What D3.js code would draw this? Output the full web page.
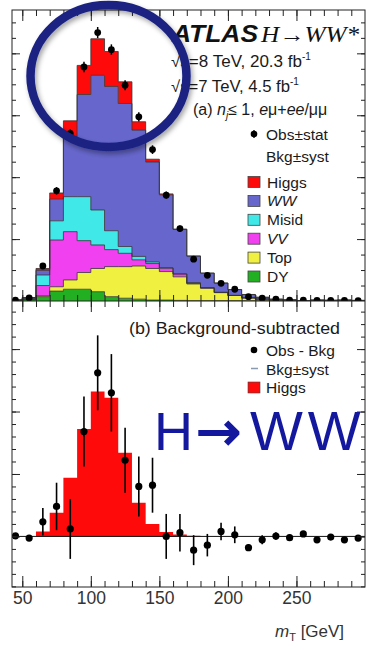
<!DOCTYPE html>
<html>
<head>
<meta charset="utf-8">
<script src="https://cdn.jsdelivr.net/npm/d3@7"></script>
<style>
  body { margin: 0; background: #fff; }
  svg { display: block; font-family: "Liberation Sans", Arial, sans-serif; }
</style>
</head>
<body>
<svg id="chart" width="376" height="650"></svg>
<script>
// bins of 10 GeV in mT, lower edges
const binLow   = [40,50,60,70,80,90,100,110,120,130,140,150,160,170,180,190,200,210,220,230,240,250,260,270,280,290];
const binWidth = 10;

// (a) stacked prediction, events / 10 GeV
const dyBkg    = [2,4,14,32,38,38,30,14,9,6,3,3,2,1,1,1,1,1,1,0,0,0,0,0,0,0];
const topBkg   = [0.5,1,3,14,30,54,75,97,102,107,102,92,76,54,40,26,17,9,5,3,2,0.5,1.5,1,1.5,1];
const vvBkg    = [0.5,3,33,151,156,103,76,55,43,20,16,11,9,3,2,1,0,0,0,0,0,0,0,0,0,0];
const misidBkg = [0,2,34,62,113,142,113,61,22,11,5,1,1,1,0,0,0,0,0,0,0,0,0,0,0,0];
const wwBkg    = [0,1,15,70,194,330,435,466,462,408,323,236,143,86,47,30,19,11,6,3,2,0.5,2,1.5,2,1];
const higgsSig = [0,0,6,20,51,94,118,113,70,27,9,3,1.5,0.5,0,0,0,0,0,0,0,0,0,0,0,0];
const obsCount = [3,10,113,356,541,756,867,812,697,595,489,342,234,135,83,57,38,14,9,6,3,3,2,2,2,1];
const obsStat  = [2,3,9,12,14,17,18,17,16,15,14,12,10,8,6,5,4,3,2,2,2,2,2,2,2,2];

// (b) background-subtracted
const subCount = [0.5,-1.3,11.7,24,6,84,131,115,61,40,41,0,3,-11,-7,4,1.3,-9,-2.7,0.3,-1,2,-2.7,-0.5,-2.7,-1.3];
const subErr   = [2,2,11,19,24,28,30,31,26,24,22,18,15,12,9,7,6.7,2.7,3.6,3,2.5,2,2,2,2,2];
const higgsSub = [0,0,4,19,47,86,116,111,67,27,10,3.5,1.5,0.5,0,0,0,0,0,0,0,0,0,0,0,0];

const seriesKeys   = ["DY","Top","VV","Misid","WW","Higgs"];
const legendNames  = ["Higgs","WW","Misid","VV","Top","DY"];
const seriesColors = ["#22b022","#f0f040","#f040f0","#40e8e8","#6666cc","#ff0a0a"];
const xTicks = [50,100,150,200,250];

const svg = d3.select("#chart");
const x0 = 12, x1 = 365, yA = 10, yMid = 301, yB = 587;

const x = d3.scaleLinear().domain([42.5, 300]).range([x0, x1]);
const yTop = d3.scaleLinear().domain([0, 940]).range([yMid, yA]);
const yBot = d3.scaleLinear().domain([-40.5, 188.5]).range([yB, yMid]);
const color = d3.scaleOrdinal().domain(seriesKeys).range(seriesColors);

const defs = svg.append("defs");
defs.append("clipPath").attr("id", "clipA")
  .append("rect").attr("x", x0).attr("y", yA).attr("width", x1 - x0).attr("height", yMid - yA);
defs.append("clipPath").attr("id", "clipB")
  .append("rect").attr("x", x0).attr("y", yMid).attr("width", x1 - x0).attr("height", yB - yMid);
defs.append("filter").attr("id", "shadow").attr("x", "-20%").attr("y", "-20%").attr("width", "140%").attr("height", "140%")
  .append("feDropShadow").attr("dx", 2).attr("dy", 3).attr("stdDeviation", 2.5)
  .attr("flood-color", "#000").attr("flood-opacity", 0.35);

// ---- panel (a): stacked histogram
const rows = binLow.map((lo, i) => ({
  lo, DY: dyBkg[i], Top: topBkg[i], VV: vvBkg[i], Misid: misidBkg[i], WW: wwBkg[i], Higgs: higgsSig[i]
}));
const stacked = d3.stack().keys(seriesKeys)(rows);

const steps = s => s.flatMap((d, i) => [
  { x: binLow[i], y0: d[0], y1: d[1] },
  { x: binLow[i] + binWidth, y0: d[0], y1: d[1] }
]);
const areaA = d3.area().x(p => x(p.x)).y0(p => yTop(p.y0)).y1(p => yTop(p.y1));
const edgeA = d3.line().x(p => x(p.x)).y(p => yTop(p.y1));

const gA = svg.append("g").attr("clip-path", "url(#clipA)");
stacked.forEach(s => {
  gA.append("path").attr("d", areaA(steps(s))).attr("fill", color(s.key));
});
stacked.forEach(s => {
  gA.append("path").attr("d", edgeA(steps(s))).attr("fill", "none")
    .attr("stroke", "#333").attr("stroke-width", 0.8);
});

const cen = i => x(binLow[i] + binWidth / 2);
obsCount.forEach((v, i) => {
  gA.append("line").attr("x1", cen(i)).attr("x2", cen(i))
    .attr("y1", yTop(v - obsStat[i])).attr("y2", yTop(v + obsStat[i]))
    .attr("stroke", "#000").attr("stroke-width", 1.5);
  gA.append("circle").attr("cx", cen(i)).attr("cy", yTop(v)).attr("r", 3.4).attr("fill", "#000");
});

// ---- panel (b): background subtracted
const areaB = d3.area().x(p => x(p.x)).y0(yBot(0)).y1(p => yBot(p.y1));
const gB = svg.append("g").attr("clip-path", "url(#clipB)");
const hPts = higgsSub.flatMap((v, i) => [{ x: binLow[i], y1: v }, { x: binLow[i] + binWidth, y1: v }]);
gB.append("path").attr("d", areaB(hPts)).attr("fill", "#ff0a0a");
gB.append("line").attr("x1", x0).attr("x2", x1).attr("y1", yBot(0)).attr("y2", yBot(0))
  .attr("stroke", "#111").attr("stroke-width", 1);
subCount.forEach((v, i) => {
  gB.append("line").attr("x1", cen(i)).attr("x2", cen(i))
    .attr("y1", yBot(v - subErr[i])).attr("y2", yBot(v + subErr[i]))
    .attr("stroke", "#000").attr("stroke-width", 1.6);
  gB.append("circle").attr("cx", cen(i)).attr("cy", yBot(v)).attr("r", 3.6).attr("fill", "#000");
});

// ---- frame and ticks
svg.append("rect").attr("x", x0).attr("y", yA).attr("width", x1 - x0).attr("height", yB - yA)
  .attr("fill", "none").attr("stroke", "#222").attr("stroke-width", 1);
svg.append("line").attr("x1", x0).attr("x2", x1).attr("y1", yMid).attr("y2", yMid)
  .attr("stroke", "#222").attr("stroke-width", 1);

function ticks(axis, tx, ty, size, vals) {
  svg.append("g").attr("transform", `translate(${tx},${ty})`)
    .call(axis.tickValues(vals).tickSize(size).tickFormat(""))
    .call(g => g.select(".domain").remove())
    .call(g => g.selectAll("line").attr("stroke", "#222"));
}
const xMinor = d3.range(50, 300, 10);
[[d3.axisTop, yA], [d3.axisBottom, yMid], [d3.axisTop, yMid]].forEach(([fn, ty]) => {
  ticks(fn(x), 0, ty, -6, xMinor);
  ticks(fn(x), 0, ty, -11, xTicks);
});
ticks(d3.axisBottom(x), 0, yB, -6, xMinor);

svg.append("g").attr("transform", `translate(0,${yB})`)
  .call(d3.axisBottom(x).tickValues(xTicks).tickSize(-11).tickPadding(5))
  .call(g => g.select(".domain").remove())
  .call(g => g.selectAll("line").attr("stroke", "#222"))
  .call(g => g.selectAll("text").attr("font-size", 17.5).attr("fill", "#333")
    .attr("font-family", "Liberation Sans, Arial, sans-serif"));

[[d3.axisLeft, x0], [d3.axisRight, x1]].forEach(([fn, tx]) => {
  ticks(fn(yTop), tx, 0, -4, d3.range(50, 940, 50));
  ticks(fn(yTop), tx, 0, -8, d3.range(200, 940, 200));
  ticks(fn(yBot), tx, 0, -4, d3.range(-40, 189, 10));
  ticks(fn(yBot), tx, 0, -8, d3.range(0, 189, 50));
});

// ---- labels, panel (a)
const ink = "#1a1a1a";
const atlas = svg.append("text").attr("y", 41.5).attr("fill", "#111").attr("font-size", 23);
atlas.append("tspan").attr("x", 172).attr("font-weight", "bold").attr("font-style", "italic")
  .attr("textLength", 86).attr("lengthAdjust", "spacingAndGlyphs").text("ATLAS");
atlas.append("tspan").attr("x", 261).attr("font-family", "Liberation Serif, serif").attr("font-style", "italic")
  .attr("textLength", 98).attr("lengthAdjust", "spacingAndGlyphs").text("H→WW*");

const lumi = [["√s=8 TeV, 20.3 fb", 66.5, 131], ["√s=7 TeV, 4.5 fb", 91.5, 119]];
lumi.forEach(([t, y, len]) => {
  const tx = svg.append("text").attr("x", 171).attr("y", y).attr("font-size", 16).attr("fill", ink);
  tx.append("tspan").attr("textLength", len).attr("lengthAdjust", "spacingAndGlyphs").text(t);
  tx.append("tspan").attr("font-size", 10).attr("dy", -7).text("-1");
});

const sel = svg.append("text").attr("x", 193).attr("y", 115).attr("font-size", 16).attr("fill", ink);
sel.append("tspan").text("(a) ");
sel.append("tspan").attr("font-style", "italic").text("n");
sel.append("tspan").attr("font-style", "italic").attr("font-size", 10).attr("dy", 4).text("j");
sel.append("tspan").attr("dy", -4).text("≤ 1, ");
sel.append("tspan").attr("font-style", "italic").text("e");
sel.append("tspan").text("μ+");
sel.append("tspan").attr("font-style", "italic").text("ee");
sel.append("tspan").text("/μμ");

svg.append("line").attr("x1", 254).attr("x2", 254).attr("y1", 130).attr("y2", 138).attr("stroke", "#000").attr("stroke-width", 1.3);
svg.append("circle").attr("cx", 254).attr("cy", 134).attr("r", 3.3).attr("fill", "#000");
svg.append("text").attr("x", 266).attr("y", 140).attr("font-size", 15.5).attr("fill", ink).text("Obs±stat");
svg.append("text").attr("x", 266).attr("y", 161.5).attr("font-size", 15.5).attr("fill", ink).text("Bkg±syst");

legendNames.forEach((name, i) => {
  const y = 182 + i * 18.9;
  svg.append("rect").attr("x", 248).attr("y", y - 5.5).attr("width", 12).attr("height", 11)
    .attr("fill", color(name)).attr("stroke", "#444").attr("stroke-width", 0.8);
  svg.append("text").attr("x", 267).attr("y", y + 5.5).attr("font-size", 15.5).attr("fill", ink)
    .attr("font-style", name === "WW" || name === "VV" ? "italic" : "normal").text(name);
});

// ---- labels, panel (b)
svg.append("text").attr("x", 129).attr("y", 333.5).attr("font-size", 15.8).attr("fill", ink)
  .attr("textLength", 211).attr("lengthAdjust", "spacingAndGlyphs").text("(b) Background-subtracted");
svg.append("circle").attr("cx", 254).attr("cy", 350).attr("r", 3.3).attr("fill", "#000");
svg.append("text").attr("x", 266).attr("y", 355.5).attr("font-size", 15.5).attr("fill", ink).text("Obs - Bkg");
svg.append("line").attr("x1", 251).attr("x2", 258).attr("y1", 368.5).attr("y2", 368.5).attr("stroke", "#8a9bb0").attr("stroke-width", 1.5);
svg.append("text").attr("x", 266).attr("y", 374.5).attr("font-size", 15.5).attr("fill", ink).text("Bkg±syst");
svg.append("rect").attr("x", 248).attr("y", 382).attr("width", 12).attr("height", 11).attr("fill", "#ff0a0a").attr("stroke", "#444").attr("stroke-width", 0.6);
svg.append("text").attr("x", 266).attr("y", 393).attr("font-size", 15.5).attr("fill", ink).text("Higgs");

// axis title
const xt = svg.append("text").attr("x", 275).attr("y", 636.5).attr("font-size", 17).attr("fill", "#333");
xt.append("tspan").attr("font-style", "italic").text("m");
xt.append("tspan").attr("font-size", 11).attr("dy", 4).text("T");
xt.append("tspan").attr("dy", -4).text(" [GeV]");

// ---- slide annotations
const hww = svg.append("text").attr("y", 450).attr("font-size", 54).attr("fill", "#14189e");
hww.append("tspan").attr("x", 154).text("H");
hww.append("tspan").attr("x", 196).attr("font-family", "DejaVu Sans, sans-serif")
  .attr("stroke", "#14189e").attr("stroke-width", 1.6).text("→");
hww.append("tspan").attr("x", 250).attr("font-size", 56).attr("letter-spacing", 5).text("WW");

svg.append("ellipse").attr("cx", 108.5).attr("cy", 76).attr("rx", 78).attr("ry", 71)
  .attr("fill", "none").attr("stroke", "#1a2382").attr("stroke-width", 8.5)
  .attr("filter", "url(#shadow)");
</script>
</body>
</html>
